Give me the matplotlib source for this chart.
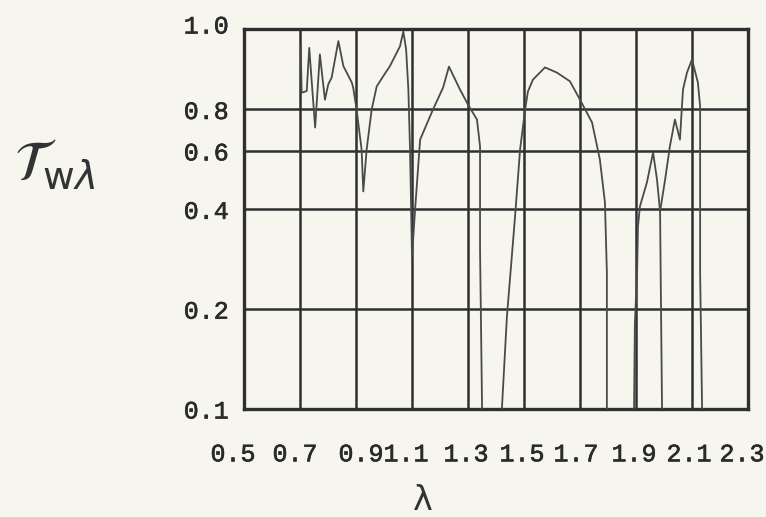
import numpy as np
import matplotlib
matplotlib.use("Agg")
import matplotlib.pyplot as plt
import matplotlib.transforms as mtransforms
import matplotlib.patheffects as pe

# ---- data (wavelength in micrometres, transmittance) ----
seg1_x = [0.7025, 0.706, 0.724, 0.733, 0.754, 0.771, 0.789, 0.801, 0.813, 0.837,
          0.855, 0.867, 0.885, 0.890, 0.902, 0.920, 0.926, 0.938, 0.956, 0.974,
          0.997, 1.021, 1.057, 1.069, 1.079, 1.087, 1.093, 1.100, 1.111, 1.129,
          1.175, 1.211, 1.232, 1.271, 1.300, 1.332, 1.343, 1.343, 1.350, 1.350]
seg1_y = [0.953, 0.838, 0.842, 0.949, 0.706, 0.932, 0.822, 0.858, 0.874, 0.967,
          0.902, 0.886, 0.862, 0.850, 0.800, 0.606, 0.453, 0.606, 0.800, 0.853,
          0.877, 0.902, 0.953, 0.993, 0.945, 0.846, 0.606, 0.288, 0.399, 0.649,
          0.800, 0.850, 0.901, 0.846, 0.811, 0.746, 0.619, 0.303, 0.1046, 0.100]

seg2_x = [1.421, 1.439, 1.468, 1.486, 1.504, 1.514, 1.532, 1.575, 1.618, 1.664,
          1.700, 1.743, 1.771, 1.789, 1.796, 1.796]
seg2_y = [0.100, 0.190, 0.380, 0.606, 0.800, 0.841, 0.869, 0.899, 0.886, 0.865,
          0.822, 0.731, 0.565, 0.420, 0.258, 0.100]

seg3_x = [1.893, 1.896, 1.904, 1.907, 1.914, 1.939, 1.961, 1.975, 1.986, 1.989, 1.993]
seg3_y = [0.100, 0.182, 0.258, 0.355, 0.408, 0.482, 0.593, 0.492, 0.394, 0.214, 0.100]

seg4_x = [1.986, 2.004, 2.021, 2.039, 2.057, 2.064, 2.068, 2.082, 2.100, 2.121,
          2.129, 2.129, 2.136]
seg4_y = [0.394, 0.492, 0.619, 0.746, 0.649, 0.807, 0.846, 0.886, 0.919, 0.862,
          0.807, 0.258, 0.100]

x_ticks = [0.5, 0.7, 0.9, 1.1, 1.3, 1.5, 1.7, 1.9, 2.1, 2.3]
x_labels = ["0.5", "0.7", "0.9", "1.1", "1.3", "1.5", "1.7", "1.9", "2.1", "2.3"]
y_ticks = [0.1, 0.2, 0.4, 0.6, 0.8, 1.0]
y_labels = ["0.1", "0.2", "0.4", "0.6", "0.8", "1.0"]

# typed label placement offsets (pixels) as they sit on the original sheet
x_label_shift = [-11, -5, 5, -6, -2, -2, -4, -2, -3, -6]

# ---- custom transmittance scale: logarithmic up to 0.8, stretched above ----
LOG08 = np.log10(0.8)
K = 2.504


def fwd(v):
    v = np.asarray(v, dtype=float)
    x = np.log10(np.clip(v, 1e-9, None))
    return np.where(x <= LOG08, x, LOG08 + (x - LOG08) * K)


def inv(y):
    y = np.asarray(y, dtype=float)
    return np.where(y <= LOG08, 10.0 ** y, 10.0 ** (LOG08 + (y - LOG08) / K))


BG = "#f6f5ee"
INK = "#2f2f2f"
TXT = "#2a2a2a"
TICKFONT = "Liberation Mono"
thick = [pe.withStroke(linewidth=0.45, foreground=TXT)]

fig = plt.figure(figsize=(7.66, 5.17), dpi=100, facecolor=BG)
ax = fig.add_axes([244 / 766, 1 - 409 / 517, (748 - 244) / 766, (409 - 29) / 517])
ax.set_facecolor(BG)
ax.set_yscale("function", functions=(fwd, inv))
ax.set_xlim(0.5, 2.3)
ax.set_ylim(0.1, 1.0)

ax.set_xticks(x_ticks)
ax.set_xticklabels(x_labels, fontfamily=TICKFONT, fontsize=18, color=TXT)
ax.set_yticks(y_ticks)
ax.set_yticklabels(y_labels, fontfamily=TICKFONT, fontsize=18, color=TXT)
ax.minorticks_off()
ax.tick_params(axis="x", length=0, pad=24)
ax.tick_params(axis="y", length=0, pad=11)

for lab, dx in zip(ax.get_xticklabels(), x_label_shift):
    lab.set_transform(lab.get_transform() +
                      mtransforms.ScaledTranslation(dx / 100, 0, fig.dpi_scale_trans))
    lab.set_path_effects(thick)
for lab in ax.get_yticklabels():
    lab.set_path_effects(thick)
ax.get_yticklabels()[-1].set_transform(
    ax.get_yticklabels()[-1].get_transform() +
    mtransforms.ScaledTranslation(0, 5 / 100, fig.dpi_scale_trans))

ax.grid(True, color=INK, linewidth=1.8)
ax.set_axisbelow(True)
for s in ax.spines.values():
    s.set_color(INK)
    s.set_linewidth(2.4)

for xs, ys in [(seg1_x, seg1_y), (seg2_x, seg2_y), (seg3_x, seg3_y), (seg4_x, seg4_y)]:
    ax.plot(xs, ys, color="#4a4a4a", linewidth=1.3, solid_joinstyle="round", zorder=3)

fig.text(55 / 766, 1 - 165 / 517, r"$\mathcal{T}_{\mathrm{w}\lambda}$", fontsize=40,
         color="#333", ha="center", va="center")
fig.text(423 / 766, 1 - 500 / 517, "λ", fontsize=24, color="#333",
         ha="center", va="center")

fig.savefig("out.png", dpi=100, facecolor=BG)
